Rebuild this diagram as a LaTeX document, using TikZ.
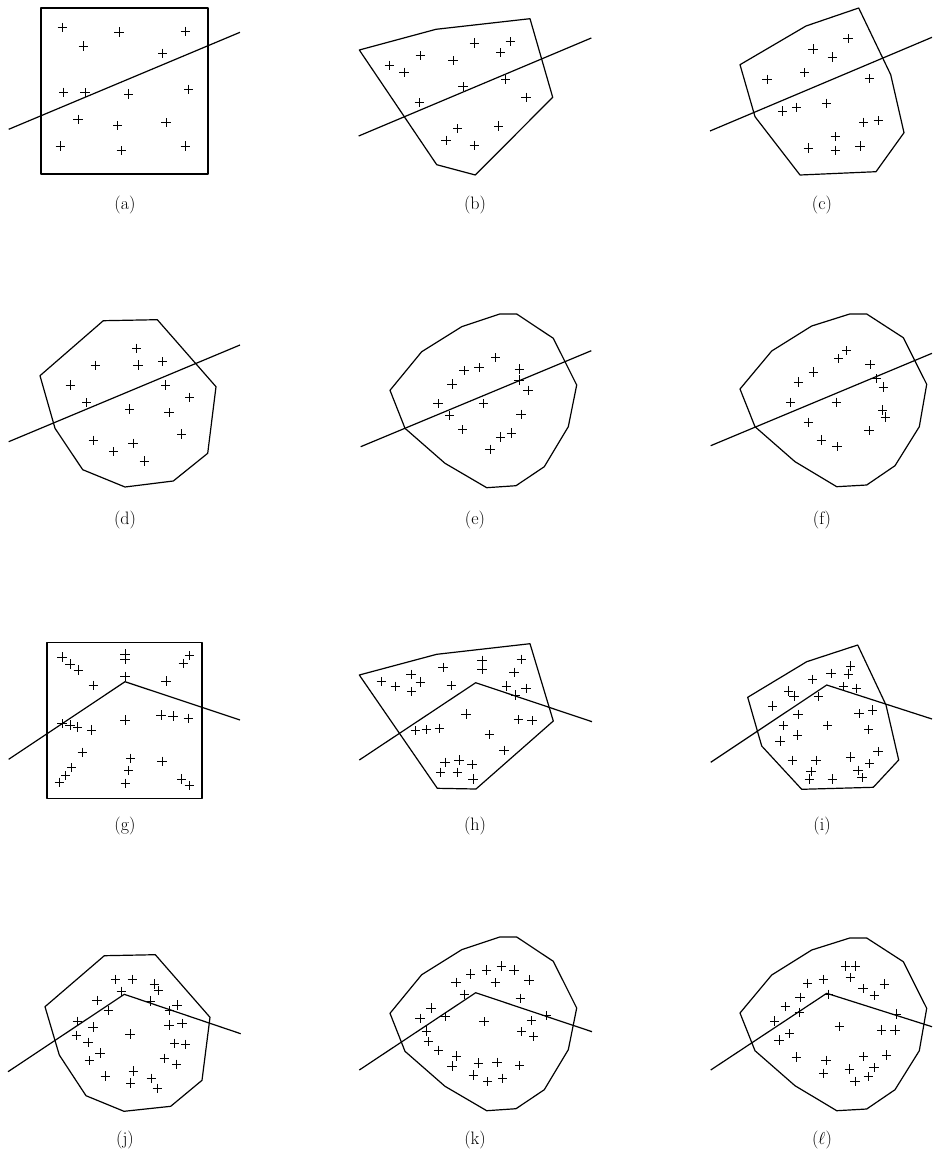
\documentclass[tikz,border=0pt]{standalone}
\begin{document}
\begin{tikzpicture}[x=1pt,y=-1pt,
  edge/.style={line width=1.2pt, line join=round},
  pm/.style={line width=0.8pt},
  lab/.style={font=\fontsize{18}{22}\selectfont, inner sep=0pt},
  plus/.pic={\draw[pm] (-4.7,0) -- (4.7,0) (0,-4.7) -- (0,4.7);}]
\useasboundingbox (0,0) rectangle (932,1151);
% ---------- (a)
\draw[edge] (41,8) rectangle (208,174);
\coordinate (a1) at (8.7,129.3); \coordinate (a2) at (240,32.3);
\draw[edge] (a1) -- (a2);
\foreach \p in {(62.3,27.3),(119,32),(185.3,31.3),(83.3,46),(162.7,53.3),(63.7,92.3),(85,92.7),(128.7,94),(188.7,89.3),(78,119.3),(117.7,125.7),(166,122.7),(60.3,146),(121.3,150.7),(185.3,146)} \pic at \p {plus};
\node[lab] (la) at (125,205) {(a)};
% ---------- (b)
\draw[edge] (359.3,50) -- (436,29.3) -- (530,18.7) -- (552.7,97.3) -- (475.3,175) -- (436.7,164.7) -- cycle;
\coordinate (b1) at (358.7,136); \coordinate (b2) at (591.3,38);
\draw[edge] (b1) -- (b2);
\foreach \p in {(474.3,43),(510.3,41.7),(500.7,52.7),(420.3,55.7),(389.3,65.3),(404,72.3),(453,60.7),(505.7,79.3),(463,86.7),(526,97.3),(419.3,102.7),(457.7,128.7),(446,140.3),(498.7,126),(474.3,145.3)} \pic at \p {plus};
\node[lab] (lb) at (475,205) {(b)};
% ---------- (c)
\draw[edge] (740,64.7) -- (806,26) -- (858.7,8) -- (890.7,74.7) -- (904,132.7) -- (876,171.7) -- (800,175) -- (755,116.7) -- cycle;
\coordinate (c1) at (710,131); \coordinate (c2) at (932,37.3);
\draw[edge] (c1) -- (c2);
\foreach \p in {(813,49),(848,38.7),(832.3,57),(804.7,72.7),(767,79.3),(869.3,78.7),(782.7,111),(796.7,107.3),(826.7,103.3),(863.7,122.3),(878.3,120.7),(835.3,136.7),(808.3,148),(835.3,150.3),(860,146)} \pic at \p {plus};
\node[lab] (lc) at (822,205) {(c)};
% ---------- (d)
\draw[edge] (103.3,320.7) -- (157.3,319.7) -- (216,386.7) -- (207.7,453.3) -- (173.3,481) -- (125,487) -- (82.7,469.7) -- (55,428.3) -- (40,375.7) -- cycle;
\coordinate (d1) at (8.7,441.7); \coordinate (d2) at (240,345);
\draw[edge] (d1) -- (d2);
\foreach \p in {(136.7,348.3),(95.3,365.3),(138,365),(162.7,361.7),(70.3,385),(165.7,385),(189.7,397.3),(86.7,402.7),(129.7,409),(169,412.7),(181.7,434),(93.3,440.3),(133,443.3),(113.7,451.7),(144.3,461)} \pic at \p {plus};
\node[lab] (ld) at (125,520) {(d)};
% ---------- (e)
\draw[edge] (499.7,314) -- (516.7,314) -- (553.3,338.3) -- (576.7,385) -- (568.3,426.7) -- (544.3,466.7) -- (516,485.7) -- (486.7,487.7) -- (445,463.3) -- (405,428.3) -- (390,390.3) -- (421.7,351.7) -- (461.7,326.7) -- cycle;
\coordinate (e1) at (360.7,446.7); \coordinate (e2) at (591.3,350.7);
\draw[edge] (e1) -- (e2);
\foreach \p in {(495.7,357.7),(464,370.7),(479,367.7),(519.3,369),(519,380),(528,390.3),(452,384),(438,403.7),(483.7,403.7),(449.7,415.7),(521,414.3),(462.7,429.7),(500.7,437),(511.3,433),(490,449.3)} \pic at \p {plus};
\node[lab] (le) at (475,520) {(e)};
% ---------- (f)
\draw[edge] (849.7,314) -- (866.7,314) -- (903.3,337.7) -- (926.7,384.3) -- (919.3,426.7) -- (895,465.7) -- (866.7,485) -- (836.7,486.7) -- (795,461.7) -- (755,426.7) -- (740,389) -- (771.7,351) -- (811.7,326) -- cycle;
\coordinate (f1) at (710.7,445.7); \coordinate (f2) at (932,353.3);
\draw[edge] (f1) -- (f2);
\foreach \p in {(846.7,350.7),(838.7,358.7),(870,364.7),(813.3,372),(798.3,382),(876,378.7),(883.3,387),(790.7,402.3),(836.3,402.3),(882.7,410),(885.3,417),(808.3,422.3),(869,430.7),(821.3,440),(837,446.7)} \pic at \p {plus};
\node[lab] (lf) at (822,520) {(f)};
% ---------- (g)
\draw[edge] (47,642.3) rectangle (202,798.3);
\coordinate (g1) at (8.7,759.3); \coordinate (g2) at (125,681.7); \coordinate (g3) at (240,720);
\draw[edge] (g1) -- (g2) -- (g3);
\foreach \p in {(62,657),(70,664),(78.3,670),(93.3,685.3),(125,654),(125,659.7),(125,676.3),(189.3,655.7),(183.3,663.3),(166,681),(62,723.7),(70,725),(77.7,727),(91.7,730),(125,720),(161,715),(173,716),(188.3,718.3),(82.3,752.3),(130.7,758.3),(128.7,770.7),(125.3,783.3),(162,761.3),(71.7,767.7),(65.7,775.7),(59.3,782.3),(181.7,779),(189.3,785.7)} \pic at \p {plus};
\node[lab] (lg) at (125,826) {(g)};
% ---------- (h)
\draw[edge] (359.3,675) -- (436.7,654.3) -- (530,643.7) -- (553.3,721) -- (476,789) -- (437.3,788.3) -- cycle;
\coordinate (h1) at (359.3,760); \coordinate (h2) at (475.7,682.7); \coordinate (h3) at (592,721.7);
\draw[edge] (h1) -- (h2) -- (h3);
\foreach \p in {(443,667.3),(482,660.3),(482,669.7),(521.3,659.3),(514,672.3),(411,674.3),(381.3,681.7),(395.3,686.3),(420.3,682),(411.7,691.7),(451.3,685.7),(506.3,686),(526,688.3),(515.7,695),(466,714),(518.3,719.7),(532,720.7),(415.3,730.7),(426.3,729.7),(439.3,728.3),(489.3,734.7),(504,750.3),(445,762.3),(459,760),(472,764.7),(440.7,772.3),(457.3,772.3),(473,779)} \pic at \p {plus};
\node[lab] (lh) at (475,826) {(h)};
% ---------- (i)
\draw[edge] (747.7,697.3) -- (806.7,661.7) -- (857.7,645) -- (886,705) -- (898.7,760) -- (873.3,787.3) -- (801.7,789.3) -- (761.7,746) -- cycle;
\coordinate (i1) at (710.7,762.3); \coordinate (i2) at (826.7,685); \coordinate (i3) at (932,719);
\draw[edge] (i1) -- (i2) -- (i3);
\foreach \p in {(850.7,666),(848.3,674),(831,673.3),(812.7,679.3),(788.7,691),(794,696),(818.3,696.3),(843.3,686.7),(856.7,688.3),(772.7,706),(798,714.3),(859,713.7),(872.7,710),(783.3,725.7),(827.7,725.7),(868.7,729.7),(780,741),(797.7,735),(878,751.7),(792.3,760.3),(816,760.3),(850.7,757),(869.7,763.7),(811,771.7),(809.3,779),(832.3,779),(858,770.3),(862,777.7)} \pic at \p {plus};
\node[lab] (li) at (822,826) {(i)};
% ---------- (j)
\draw[edge] (104.3,955.7) -- (155.3,954.7) -- (210,1017.3) -- (202,1080.3) -- (170.7,1106.3) -- (124,1111.3) -- (86,1095.7) -- (59.3,1055) -- (45,1006.7) -- cycle;
\coordinate (j1) at (8,1071.7); \coordinate (j2) at (124.3,994.3); \coordinate (j3) at (240.7,1033.7);
\draw[edge] (j1) -- (j2) -- (j3);
\foreach \p in {(115.3,979.3),(132.3,979.3),(154.3,984),(158.7,990.7),(121.3,991.3),(97,1000.3),(108.3,1010.3),(150.3,1001),(177,1005),(169.3,1010.7),(77.3,1021.3),(93,1027),(76.3,1035.3),(88,1042.3),(130,1034),(169,1025),(182,1023.3),(174.7,1043.3),(185.7,1044.3),(100,1053),(89.3,1060.7),(164.3,1058.3),(176.7,1064.3),(105.3,1076),(133.3,1071),(130.7,1083),(151.3,1078.3),(157.3,1088.3)} \pic at \p {plus};
\node[lab] (lj) at (125,1140) {(j)};
% ---------- (k)
\begin{scope}[yshift=-623pt]
\draw[edge] (499.7,314) -- (516.7,314) -- (553.3,338.3) -- (576.7,385) -- (568.3,426.7) -- (544.3,466.7) -- (516,485.7) -- (486.7,487.7) -- (445,463.3) -- (405,428.3) -- (390,390.3) -- (421.7,351.7) -- (461.7,326.7) -- cycle;
\end{scope}
\coordinate (k1) at (359.3,1070); \coordinate (k2) at (475.7,992.7); \coordinate (k3) at (592,1031.7);
\draw[edge] (k1) -- (k2) -- (k3);
\foreach \p in {(501.3,966),(486.7,970),(514,970),(470.7,974),(456,982.3),(495.3,982.7),(529,980),(464.3,994.3),(520.3,998.3),(431,1008),(420,1018.3),(445,1016.7),(546.3,1015.7),(531.7,1020.7),(484,1021.7),(426.3,1031),(521.7,1031.7),(533.7,1036.7),(428.3,1041.7),(438.7,1050.3),(456.7,1056),(452,1066),(478.3,1063),(497,1062.3),(519.7,1065.7),(473.3,1075),(487.7,1081.7),(502.7,1078.3)} \pic at \p {plus};
\node[lab] (lk) at (475,1140) {(k)};
% ---------- (l)
\begin{scope}[yshift=-624pt]
\draw[edge] (849.7,314) -- (866.7,314) -- (903.3,337.7) -- (926.7,384.3) -- (919.3,426.7) -- (895,465.7) -- (866.7,485) -- (836.7,486.7) -- (795,461.7) -- (755,426.7) -- (740,389) -- (771.7,351) -- (811.7,326) -- cycle;
\end{scope}
\coordinate (l1) at (710.7,1070); \coordinate (l2) at (826.7,993.3); \coordinate (l3) at (932,1026.7);
\draw[edge] (l1) -- (l2) -- (l3);
\foreach \p in {(845.7,966),(855.3,966),(850.3,977.7),(823.3,979.3),(807.7,983.3),(863,988.7),(874.3,995.7),(884.3,984),(828.3,994.3),(800,997.3),(785.3,1006.7),(799.3,1012.7),(896.3,1014),(774.7,1021),(839.3,1026.7),(881.7,1030),(895,1030),(789.7,1033.7),(779,1040),(796.3,1057),(826,1060.3),(863.7,1056.7),(886.7,1055),(823.7,1073.3),(849.3,1069),(874,1067.7),(868.3,1076.7),(855,1081.3)} \pic at \p {plus};
\node[lab] (ll) at (822,1140) {($\ell$)};
\end{tikzpicture}
\end{document}
